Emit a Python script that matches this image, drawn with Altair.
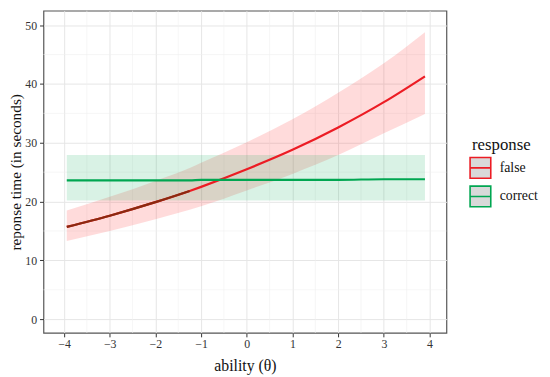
import altair as alt
import pandas as pd

# ---- data ----
theta = [-3.94, -3, -2, -1.25, -1, 0, 1, 2, 3, 3.9]
false_fit = [15.7, 17.6, 19.9, 21.8, 22.5, 25.5, 28.8, 32.6, 36.9, 41.3]
false_lo = [13.3, 15.0, 17.0, 18.6, 19.2, 21.9, 24.7, 27.9, 31.6, 34.9]
false_hi = [18.5, 20.8, 23.5, 25.7, 26.6, 30.1, 34.0, 38.5, 43.5, 48.8]
correct_fit = [23.6, 23.6, 23.6, 23.6, 23.7, 23.7, 23.7, 23.7, 23.8, 23.8]
correct_lo = [20.2] * len(theta)
correct_hi = [27.9] * len(theta)

responses = ["false", "correct"]
line_colors = ["#ec1c24", "#00a651"]
ribbon_colors = ["#ff2a2a", "#00a651"]
x_ticks = [-4, -3, -2, -1, 0, 1, 2, 3, 4]
x_minor = [-3.5, -2.5, -1.5, -0.5, 0.5, 1.5, 2.5, 3.5]
y_ticks = [0, 10, 20, 30, 40, 50]
y_minor = [5, 15, 25, 35, 45]
dark_until = -1.25

rows = []
for i, t in enumerate(theta):
    rows.append({"theta": t, "response": "false", "fit": false_fit[i], "lo": false_lo[i], "hi": false_hi[i]})
    rows.append({"theta": t, "response": "correct", "fit": correct_fit[i], "lo": correct_lo[i], "hi": correct_hi[i]})
df = pd.DataFrame(rows)

FONT = "Liberation Serif"
xs = alt.Scale(domain=[-4.45, 4.37], nice=False, zero=False)
ys = alt.Scale(domain=[-2.33, 52.45], nice=False, zero=False)

xaxis = alt.Axis(values=x_ticks, title="ability (θ)", grid=True, gridColor="#e6e6e6", gridWidth=1,
                 tickColor="#333", tickSize=4, labelColor="#333", labelFontSize=12,
                 labelFont=FONT, titleFont=FONT, titleFontSize=16, titleFontWeight="normal",
                 titleColor="#111", domain=False, labelPadding=2, titlePadding=8)
yaxis = alt.Axis(values=y_ticks, title="reponse time (in seconds)", grid=True, gridColor="#e6e6e6", gridWidth=1,
                 tickColor="#333", tickSize=4, labelColor="#333", labelFontSize=12,
                 labelFont=FONT, titleFont=FONT, titleFontSize=15.5, titleFontWeight="normal",
                 titleColor="#111", domain=False, labelPadding=3, titlePadding=1)

X = alt.X("theta:Q", scale=xs, axis=xaxis)

xminor = alt.Chart(pd.DataFrame({"v": x_minor})).mark_rule(color="#f0f0f0", strokeWidth=0.6).encode(
    x=alt.X("v:Q", scale=xs, axis=xaxis))
yminor = alt.Chart(pd.DataFrame({"v": y_minor})).mark_rule(color="#f0f0f0", strokeWidth=0.6).encode(
    y=alt.Y("v:Q", scale=ys, axis=yaxis))

base = alt.Chart(df)


def ribbon(resp, col, op):
    return base.transform_filter(alt.datum.response == resp).mark_area(
        opacity=op, interpolate="monotone", color=col).encode(
        x=X,
        y=alt.Y("lo:Q", scale=ys, axis=yaxis),
        y2="hi:Q",
    )


rib_false = ribbon("false", ribbon_colors[0], 0.17)
rib_correct = ribbon("correct", ribbon_colors[1], 0.15)

lines = base.mark_line(strokeWidth=2.2, interpolate="monotone").encode(
    x=X,
    y=alt.Y("fit:Q", scale=ys, axis=yaxis),
    color=alt.Color("response:N", sort=responses,
                    scale=alt.Scale(domain=responses, range=line_colors),
                    legend=alt.Legend(title="response", orient="none", legendX=435, legendY=128,
                                      symbolType="M-1.4,-1.4H1.4V1.4H-1.4Z M-1.4,0H1.4", symbolFillColor="#d9d9d9",
                                      symbolSize=225, symbolStrokeWidth=1.6, symbolOpacity=1,
                                      titleFont=FONT, titleFontSize=17, titleFontWeight="normal",
                                      titleColor="#111", labelFont=FONT, labelFontSize=14,
                                      labelColor="#111", labelOffset=11, rowPadding=0, titlePadding=6)),
)

dark = base.transform_filter(
    (alt.datum.response == "false") & (alt.datum.theta <= dark_until)
).mark_line(strokeWidth=2.2, interpolate="monotone", color="#8a2a10").encode(
    x=X,
    y=alt.Y("fit:Q", scale=ys, axis=yaxis),
)

chart = alt.layer(xminor, yminor, rib_false, rib_correct, lines, dark).properties(
    width=409, height=327,
    autosize=alt.AutoSizeParams(type="none"),
    padding={"left": 36, "top": 0, "right": 97, "bottom": 42},
).configure_view(stroke="#555", strokeWidth=1.2).configure_axis(
    labelFont=FONT, titleFont=FONT
).configure_legend(
    titleFont=FONT, labelFont=FONT, titleFontWeight="normal"
)

chart.save("out.html", embed_options={"renderer": "svg", "actions": False})
